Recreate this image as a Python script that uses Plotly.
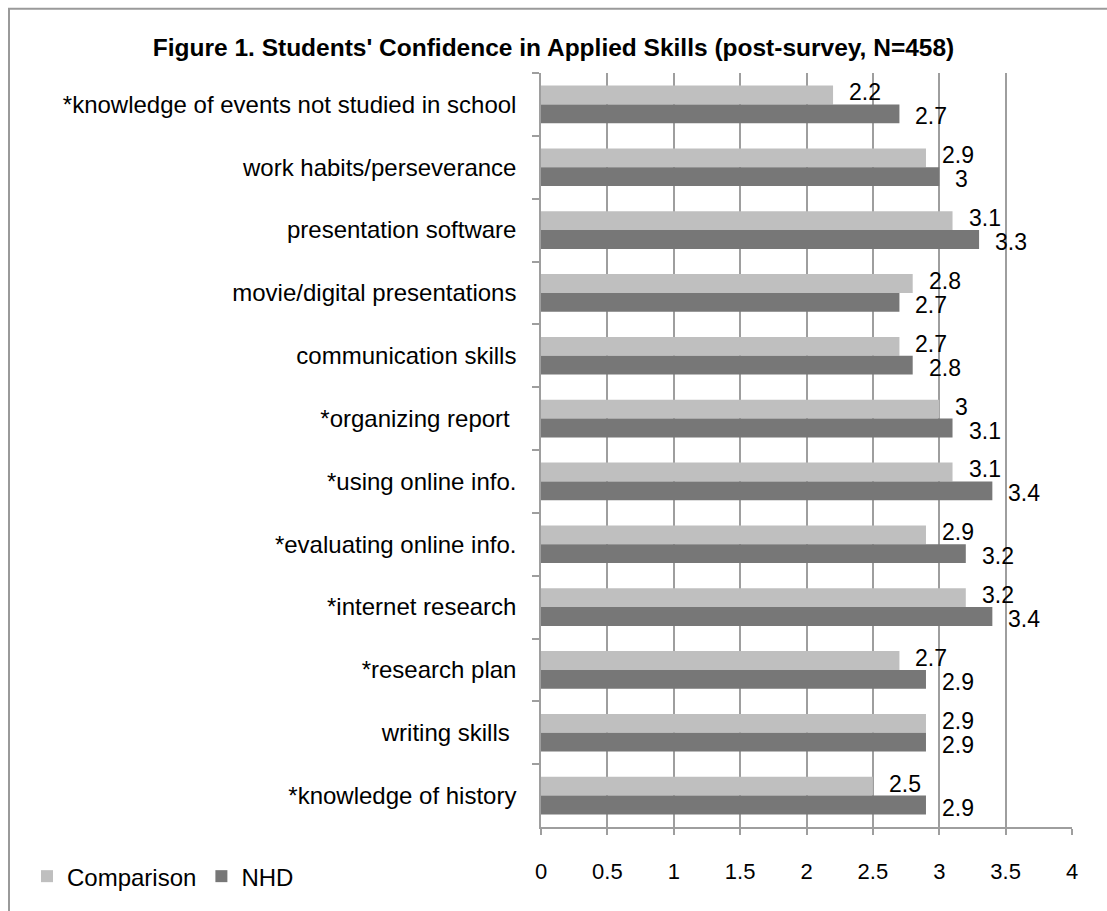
import plotly.graph_objects as go

# categories, top to bottom as they appear in the chart
skills = [
    "*knowledge of events not studied in school",
    "work habits/perseverance",
    "presentation software",
    "movie/digital presentations",
    "communication skills",
    "*organizing report ",
    "*using online info.",
    "*evaluating online info.",
    "*internet research",
    "*research plan",
    "writing skills ",
    "*knowledge of history",
]
comparison = [2.2, 2.9, 3.1, 2.8, 2.7, 3.0, 3.1, 2.9, 3.2, 2.7, 2.9, 2.5]
nhd = [2.7, 3.0, 3.3, 2.7, 2.8, 3.1, 3.4, 3.2, 3.4, 2.9, 2.9, 2.9]

x_ticks = [0, 0.5, 1, 1.5, 2, 2.5, 3, 3.5, 4]

W, H = 1107, 911
L, R, T, B = 541, 35, 73, 62
PW, PH = W - L - R, H - T - B

FONT = "Liberation Sans, Arial, Helvetica, sans-serif"
LIGHT = "#bfbfbf"
DARK = "#777777"
GRID = "#9e9e9e"


def px_x(p):
    # pixel column -> paper x
    return (p - L) / PW


def px_y(p):
    # pixel row -> paper y
    return (H - B - p) / PH


fig = go.Figure()
fig.add_trace(go.Bar(
    y=skills, x=comparison, orientation="h", name="Comparison",
    marker=dict(color=LIGHT, line=dict(width=0)),
    hoverinfo="x+y+name",
))
fig.add_trace(go.Bar(
    y=skills, x=nhd, orientation="h", name="NHD",
    marker=dict(color=DARK, line=dict(width=0)),
    hoverinfo="x+y+name",
))

# data labels just past the end of each bar
annotations = []
for vals, shift in [(comparison, 12), (nhd, -12)]:
    for cat, v in zip(skills, vals):
        annotations.append(dict(
            x=v, y=cat, xref="x", yref="y",
            text=f"{v:g}", showarrow=False,
            xanchor="left", yanchor="middle",
            xshift=14, yshift=shift,
            font=dict(family=FONT, size=23, color="#000000"),
        ))

fig.update_layout(
    width=W, height=H,
    margin=dict(l=L, r=R, t=T, b=B, pad=0),
    paper_bgcolor="white",
    plot_bgcolor="white",
    barmode="group",
    bargap=0.4,
    bargroupgap=0,
    title=dict(
        text="<b>Figure 1. Students' Confidence in Applied Skills (post-survey, N=458)</b>",
        x=0.5, xref="container", xanchor="center",
        y=1 - 47 / H, yref="container", yanchor="middle",
        font=dict(family=FONT, size=24.5, color="#000000"),
    ),
    xaxis=dict(
        range=[0, 4],
        tickvals=x_ticks,
        ticktext=[f"{t:g}" for t in x_ticks],
        showgrid=True, gridcolor=GRID, gridwidth=1.5,
        zeroline=False,
        showline=True, linecolor=GRID, linewidth=1.5,
        ticks="outside", ticklen=6, tickwidth=1.5, tickcolor=GRID,
        ticklabelstandoff=18,
        tickfont=dict(family=FONT, size=22, color="#000000"),
        fixedrange=True,
    ),
    yaxis=dict(
        autorange="reversed",
        tickson="boundaries",
        showgrid=False,
        showline=True, linecolor=GRID, linewidth=1.5,
        ticks="outside", ticklen=7, tickwidth=1.5, tickcolor=GRID,
        ticklabelstandoff=18,
        tickfont=dict(family=FONT, size=24, color="#000000"),
        fixedrange=True,
    ),
    legend=dict(
        orientation="h",
        x=px_x(27), xanchor="left",
        y=px_y(900), yanchor="middle",
        font=dict(family=FONT, size=24, color="#000000"),
        bgcolor="rgba(0,0,0,0)",
        itemwidth=30,
        traceorder="normal",
    ),
    annotations=annotations,
    shapes=[dict(
        type="rect", xref="paper", yref="paper",
        x0=px_x(9), x1=px_x(1130), y0=px_y(940), y1=px_y(7),
        line=dict(color="#9a9a9a", width=2),
        fillcolor="rgba(0,0,0,0)",
    )],
)

# drop the browser's default page margin so the figure sits at the window's corner
fig.write_html(
    "out.html",
    config={"displayModeBar": False},
    post_script="document.body.style.margin='0';document.body.style.overflow='hidden';",
)
